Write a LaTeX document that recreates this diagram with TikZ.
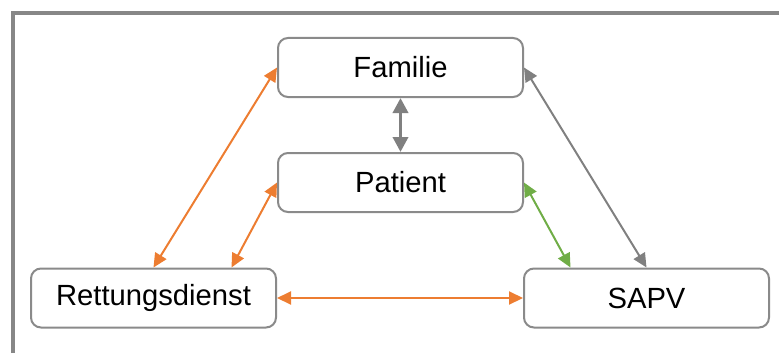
\documentclass[tikz,border=0pt]{standalone}
\usepackage{fontspec}
\setmainfont{Liberation Sans}
\usepackage{tikz}
\usetikzlibrary{positioning}
\usetikzlibrary{arrows.meta}
\definecolor{boxgray}{HTML}{8A8A8A}
\definecolor{framegray}{HTML}{878787}
\definecolor{linkorange}{HTML}{ED7D31}
\definecolor{linkgreen}{HTML}{70AD47}
\definecolor{linkgray}{HTML}{808080}
\tikzset {
  x=0.5pt, y=-0.5pt,
  % rounded boxes for the actors
  actor/.style = {draw=boxgray, line width=1pt, rounded corners=5pt, fill=white,
    minimum width=122.5pt, minimum height=29.5pt, inner sep=0pt,
    font=\fontsize{14.6}{17}\selectfont},
  % the two-way links
  link/.style={line width=1pt, {Triangle[length=7pt,width=6.5pt]}-{Triangle[length=7pt,width=6.5pt]}},
  orangelink/.style={link, linkorange},
  greenlink/.style={link, linkgreen},
  graylink/.style={link, linkgray},
  thicklink/.style={linkgray, line width=1.8pt, {Triangle[length=7.5pt,width=7.5pt]}-{Triangle[length=7.5pt,width=7.5pt]}},
}
\begin{document}
\begin{tikzpicture}
        \useasboundingbox (0,0) rectangle (779,353);
        \draw [framegray, line width=2pt] (13,353) -- (13,13) -- (779,13);

        \node[actor] (familie) at (400.5, 67.5) {Familie};
        \node[actor] (patient) at (400.5, 182.5) {Patient};
        \node[actor] (rettung) at (153.5, 298) {Rettungsdienst};
        \node[actor] (sapv) at (646.5, 298) {SAPV};

        \draw [thicklink] (familie) -- (patient);

        \draw [orangelink] (familie.west) -- (rettung.north);
        \draw [orangelink] (patient.west) -- ([xshift=39pt]rettung.north);
        \draw [orangelink] (rettung.east) -- (sapv.west);

        \draw [graylink] (familie.east) -- (sapv.north);
        \draw [greenlink] (patient.east) -- ([xshift=-38pt]sapv.north);
      \end{tikzpicture}
\end{document}
